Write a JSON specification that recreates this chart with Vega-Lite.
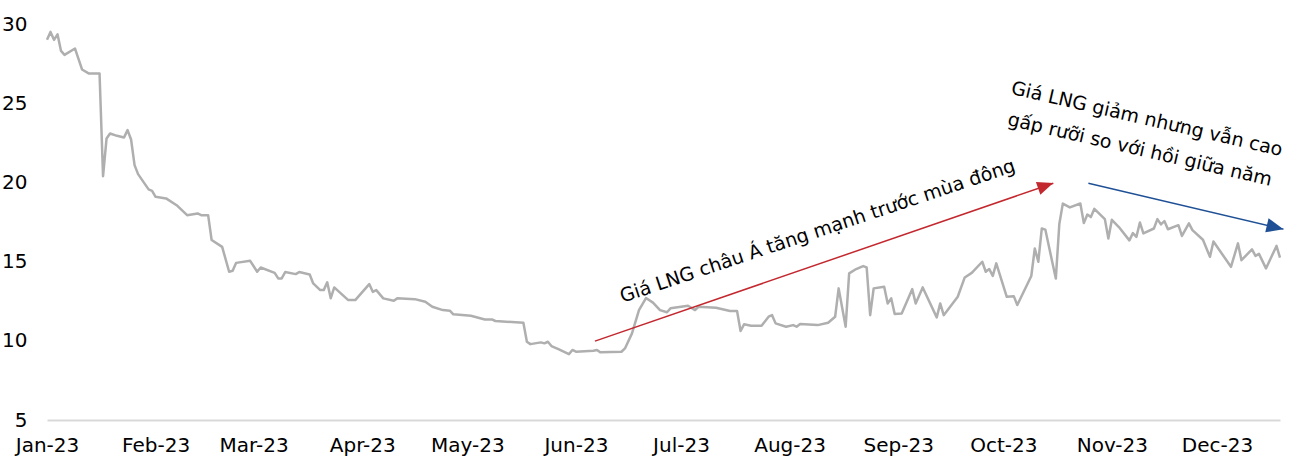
{
  "$schema": "https://vega.github.io/schema/vega-lite/v6.json",
  "width": 1233,
  "height": 396,
  "autosize": {"type": "none"},
  "padding": {"left": 47, "top": 24, "right": 10, "bottom": 39},
  "background": "white",
  "config": {
    "view": {"stroke": null},
    "font": "DejaVu Sans",
    "axis": {"labelFont": "DejaVu Sans", "labelFontSize": 20, "labelColor": "#000000", "grid": false, "ticks": false, "tickSize": 0, "title": null}
  },
  "datasets": {
    "prices": [
      {"date": "2023-01-01", "price": 29.0},
      {"date": "2023-01-02", "price": 29.5},
      {"date": "2023-01-03", "price": 29.0},
      {"date": "2023-01-04", "price": 29.35},
      {"date": "2023-01-05", "price": 28.3},
      {"date": "2023-01-06", "price": 28.05},
      {"date": "2023-01-09", "price": 28.45},
      {"date": "2023-01-11", "price": 27.13},
      {"date": "2023-01-13", "price": 26.87},
      {"date": "2023-01-16", "price": 26.87},
      {"date": "2023-01-17", "price": 20.39},
      {"date": "2023-01-18", "price": 22.77},
      {"date": "2023-01-19", "price": 23.09},
      {"date": "2023-01-21", "price": 22.94},
      {"date": "2023-01-23", "price": 22.84},
      {"date": "2023-01-24", "price": 23.3},
      {"date": "2023-01-25", "price": 22.71},
      {"date": "2023-01-26", "price": 21.09},
      {"date": "2023-01-27", "price": 20.52},
      {"date": "2023-01-30", "price": 19.56},
      {"date": "2023-01-31", "price": 19.47},
      {"date": "2023-02-01", "price": 19.09},
      {"date": "2023-02-04", "price": 18.99},
      {"date": "2023-02-07", "price": 18.56},
      {"date": "2023-02-10", "price": 17.93},
      {"date": "2023-02-13", "price": 18.04},
      {"date": "2023-02-14", "price": 17.93},
      {"date": "2023-02-16", "price": 17.93},
      {"date": "2023-02-17", "price": 16.36},
      {"date": "2023-02-20", "price": 15.93},
      {"date": "2023-02-22", "price": 14.36},
      {"date": "2023-02-23", "price": 14.42},
      {"date": "2023-02-24", "price": 14.92},
      {"date": "2023-02-28", "price": 15.05},
      {"date": "2023-03-02", "price": 14.36},
      {"date": "2023-03-03", "price": 14.63},
      {"date": "2023-03-07", "price": 14.29},
      {"date": "2023-03-08", "price": 13.94},
      {"date": "2023-03-09", "price": 13.94},
      {"date": "2023-03-10", "price": 14.34},
      {"date": "2023-03-13", "price": 14.21},
      {"date": "2023-03-14", "price": 14.34},
      {"date": "2023-03-17", "price": 14.19},
      {"date": "2023-03-18", "price": 13.62},
      {"date": "2023-03-20", "price": 13.2},
      {"date": "2023-03-21", "price": 13.2},
      {"date": "2023-03-22", "price": 13.69},
      {"date": "2023-03-23", "price": 12.68},
      {"date": "2023-03-24", "price": 13.37},
      {"date": "2023-03-28", "price": 12.57},
      {"date": "2023-03-30", "price": 12.57},
      {"date": "2023-04-03", "price": 13.58},
      {"date": "2023-04-04", "price": 13.09},
      {"date": "2023-04-05", "price": 13.2},
      {"date": "2023-04-07", "price": 12.68},
      {"date": "2023-04-10", "price": 12.53},
      {"date": "2023-04-11", "price": 12.68},
      {"date": "2023-04-16", "price": 12.63},
      {"date": "2023-04-19", "price": 12.46},
      {"date": "2023-04-21", "price": 12.15},
      {"date": "2023-04-24", "price": 11.94},
      {"date": "2023-04-26", "price": 11.9},
      {"date": "2023-04-27", "price": 11.67},
      {"date": "2023-05-02", "price": 11.58},
      {"date": "2023-05-06", "price": 11.35},
      {"date": "2023-05-08", "price": 11.35},
      {"date": "2023-05-09", "price": 11.25},
      {"date": "2023-05-17", "price": 11.14},
      {"date": "2023-05-18", "price": 9.94},
      {"date": "2023-05-19", "price": 9.79},
      {"date": "2023-05-22", "price": 9.9},
      {"date": "2023-05-23", "price": 9.84},
      {"date": "2023-05-24", "price": 9.94},
      {"date": "2023-05-25", "price": 9.67},
      {"date": "2023-05-27", "price": 9.48},
      {"date": "2023-05-30", "price": 9.16},
      {"date": "2023-05-31", "price": 9.42},
      {"date": "2023-06-01", "price": 9.31},
      {"date": "2023-06-06", "price": 9.37},
      {"date": "2023-06-07", "price": 9.42},
      {"date": "2023-06-08", "price": 9.27},
      {"date": "2023-06-14", "price": 9.31},
      {"date": "2023-06-15", "price": 9.52},
      {"date": "2023-06-17", "price": 10.47},
      {"date": "2023-06-19", "price": 11.94},
      {"date": "2023-06-21", "price": 12.7},
      {"date": "2023-06-23", "price": 12.41},
      {"date": "2023-06-25", "price": 11.94},
      {"date": "2023-06-27", "price": 11.8},
      {"date": "2023-06-28", "price": 12.05},
      {"date": "2023-07-03", "price": 12.21},
      {"date": "2023-07-05", "price": 11.94},
      {"date": "2023-07-06", "price": 12.15},
      {"date": "2023-07-11", "price": 12.09},
      {"date": "2023-07-15", "price": 11.88},
      {"date": "2023-07-17", "price": 11.88},
      {"date": "2023-07-18", "price": 10.62},
      {"date": "2023-07-19", "price": 11.04},
      {"date": "2023-07-21", "price": 10.95},
      {"date": "2023-07-24", "price": 10.95},
      {"date": "2023-07-26", "price": 11.52},
      {"date": "2023-07-27", "price": 11.62},
      {"date": "2023-07-28", "price": 11.1},
      {"date": "2023-07-31", "price": 10.89},
      {"date": "2023-08-02", "price": 10.99},
      {"date": "2023-08-03", "price": 10.89},
      {"date": "2023-08-04", "price": 11.06},
      {"date": "2023-08-09", "price": 10.99},
      {"date": "2023-08-12", "price": 11.14},
      {"date": "2023-08-14", "price": 11.52},
      {"date": "2023-08-15", "price": 13.31},
      {"date": "2023-08-17", "price": 10.89},
      {"date": "2023-08-18", "price": 14.26},
      {"date": "2023-08-20", "price": 14.53},
      {"date": "2023-08-22", "price": 14.72},
      {"date": "2023-08-23", "price": 14.63},
      {"date": "2023-08-24", "price": 11.62},
      {"date": "2023-08-25", "price": 13.31},
      {"date": "2023-08-28", "price": 13.41},
      {"date": "2023-08-29", "price": 12.36},
      {"date": "2023-08-30", "price": 12.68},
      {"date": "2023-08-31", "price": 11.69},
      {"date": "2023-09-02", "price": 11.73},
      {"date": "2023-09-05", "price": 13.26},
      {"date": "2023-09-06", "price": 12.36},
      {"date": "2023-09-08", "price": 13.37},
      {"date": "2023-09-12", "price": 11.48},
      {"date": "2023-09-13", "price": 12.36},
      {"date": "2023-09-14", "price": 11.62},
      {"date": "2023-09-18", "price": 12.78},
      {"date": "2023-09-20", "price": 14.0},
      {"date": "2023-09-22", "price": 14.29},
      {"date": "2023-09-25", "price": 14.99},
      {"date": "2023-09-26", "price": 14.36},
      {"date": "2023-09-27", "price": 14.53},
      {"date": "2023-09-28", "price": 14.1},
      {"date": "2023-09-29", "price": 14.89},
      {"date": "2023-10-02", "price": 12.78},
      {"date": "2023-10-04", "price": 12.82},
      {"date": "2023-10-05", "price": 12.26},
      {"date": "2023-10-09", "price": 14.09},
      {"date": "2023-10-10", "price": 15.83},
      {"date": "2023-10-11", "price": 14.99},
      {"date": "2023-10-12", "price": 17.09},
      {"date": "2023-10-13", "price": 17.02},
      {"date": "2023-10-16", "price": 13.93},
      {"date": "2023-10-17", "price": 17.37},
      {"date": "2023-10-18", "price": 18.66},
      {"date": "2023-10-20", "price": 18.42},
      {"date": "2023-10-23", "price": 18.67},
      {"date": "2023-10-24", "price": 17.43},
      {"date": "2023-10-25", "price": 17.97},
      {"date": "2023-10-26", "price": 17.81},
      {"date": "2023-10-27", "price": 18.33},
      {"date": "2023-10-30", "price": 17.68},
      {"date": "2023-10-31", "price": 16.46},
      {"date": "2023-11-01", "price": 17.64},
      {"date": "2023-11-03", "price": 17.18},
      {"date": "2023-11-06", "price": 16.34},
      {"date": "2023-11-07", "price": 16.8},
      {"date": "2023-11-08", "price": 16.56},
      {"date": "2023-11-09", "price": 17.47},
      {"date": "2023-11-10", "price": 16.78},
      {"date": "2023-11-13", "price": 17.09},
      {"date": "2023-11-14", "price": 17.68},
      {"date": "2023-11-15", "price": 17.35},
      {"date": "2023-11-16", "price": 17.56},
      {"date": "2023-11-17", "price": 17.04},
      {"date": "2023-11-20", "price": 17.3},
      {"date": "2023-11-21", "price": 16.62},
      {"date": "2023-11-23", "price": 17.41},
      {"date": "2023-11-24", "price": 16.99},
      {"date": "2023-11-27", "price": 16.38},
      {"date": "2023-11-29", "price": 15.3},
      {"date": "2023-11-30", "price": 16.27},
      {"date": "2023-12-05", "price": 14.67},
      {"date": "2023-12-07", "price": 16.15},
      {"date": "2023-12-08", "price": 15.09},
      {"date": "2023-12-11", "price": 15.77},
      {"date": "2023-12-12", "price": 15.36},
      {"date": "2023-12-13", "price": 15.49},
      {"date": "2023-12-15", "price": 14.57},
      {"date": "2023-12-18", "price": 15.99},
      {"date": "2023-12-19", "price": 15.25}
    ],
    "arrows": [
      {"arrow": "up", "start": "2023-06-06T10:19:00Z", "from": 9.98, "end": "2023-10-15T07:00:00Z", "to": 19.95},
      {"arrow": "down", "start": "2023-10-25T07:00:00Z", "from": 19.95, "end": "2023-12-20T00:00:00Z", "to": 17.05}
    ],
    "heads": [
      {"arrow": "up", "date": "2023-10-13T02:40:00Z", "value": 19.79},
      {"arrow": "down", "date": "2023-12-17T15:00:00Z", "value": 17.17}
    ],
    "notes": [
      {"arrow": "up", "date": "2023-08-09", "value": 16.92, "note": "Giá LNG châu Á tăng mạnh trước mùa đông"},
      {"arrow": "down", "date": "2023-11-11", "value": 24.0, "note": "Giá LNG giảm nhưng vẫn cao"},
      {"arrow": "down", "date": "2023-11-09", "value": 22.07, "note": "gấp rưỡi so với hồi giữa năm"}
    ]
  },
  "layer": [
    {
      "data": {"name": "prices"},
      "mark": {"type": "line", "color": "#AFAFAF", "strokeWidth": 2.5, "strokeJoin": "round"},
      "encoding": {
        "x": {
          "field": "date", "type": "temporal",
          "scale": {"type": "utc", "domain": [{"year": 2023, "month": 1, "date": 1, "utc": true}, {"year": 2023, "month": 12, "date": 19, "utc": true}]},
          "axis": {"labelExpr": "utcFormat(datum.value, '%b-%y')", "tickCount": {"interval": "month", "step": 1}, "domain": true, "domainColor": "#D9D9D9", "domainWidth": 2, "labelPadding": 15, "labelFlush": false, "labelOverlap": false}
        },
        "y": {
          "field": "price", "type": "quantitative",
          "scale": {"domain": [5, 30], "nice": false, "zero": false},
          "axis": {"values": [5, 10, 15, 20, 25, 30], "domain": false, "labelPadding": 20}
        }
      }
    },
    {
      "data": {"name": "arrows"},
      "mark": {"type": "rule", "strokeWidth": 1.5},
      "encoding": {
        "x": {"field": "start", "type": "temporal"},
        "x2": {"field": "end"},
        "y": {"field": "from", "type": "quantitative"},
        "y2": {"field": "to"},
        "color": {"field": "arrow", "type": "nominal", "scale": {"domain": ["up", "down"], "range": ["#C3282E", "#1F5096"]}, "legend": null}
      }
    },
    {
      "data": {"name": "heads"},
      "transform": [{"filter": "datum.arrow === 'up'"}],
      "mark": {"type": "point", "shape": "M1,0L-1,-0.85L-1,0.85Z", "filled": true, "size": 256, "angle": 341, "opacity": 1, "color": "#C3282E"},
      "encoding": {
        "x": {"field": "date", "type": "temporal"},
        "y": {"field": "value", "type": "quantitative"}
      }
    },
    {
      "data": {"name": "heads"},
      "transform": [{"filter": "datum.arrow === 'down'"}],
      "mark": {"type": "point", "shape": "M1,0L-1,-0.85L-1,0.85Z", "filled": true, "size": 289, "angle": 13.3, "opacity": 1, "color": "#1F5096"},
      "encoding": {
        "x": {"field": "date", "type": "temporal"},
        "y": {"field": "value", "type": "quantitative"}
      }
    },
    {
      "data": {"name": "notes"},
      "transform": [{"filter": "datum.arrow === 'up'"}],
      "mark": {"type": "text", "font": "DejaVu Sans", "fontSize": 19, "angle": 341.5, "align": "center", "baseline": "middle", "color": "#000000"},
      "encoding": {
        "x": {"field": "date", "type": "temporal"},
        "y": {"field": "value", "type": "quantitative"},
        "text": {"field": "note"}
      }
    },
    {
      "data": {"name": "notes"},
      "transform": [{"filter": "datum.arrow === 'down'"}],
      "mark": {"type": "text", "font": "DejaVu Sans", "fontSize": 19, "angle": 13, "align": "center", "baseline": "middle", "color": "#000000"},
      "encoding": {
        "x": {"field": "date", "type": "temporal"},
        "y": {"field": "value", "type": "quantitative"},
        "text": {"field": "note"}
      }
    }
  ]
}
